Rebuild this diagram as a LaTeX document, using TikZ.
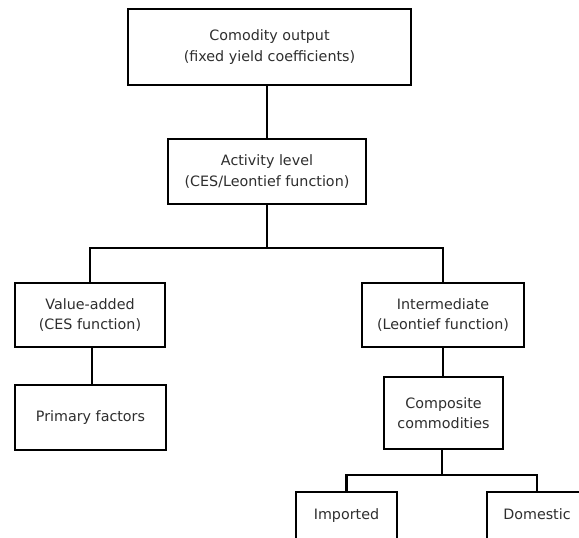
\documentclass[tikz,border=0pt]{standalone}
\usepackage{fontspec}
\setmainfont{DejaVu Sans}
\begin{document}
\begin{tikzpicture}[x=1pt,y=-1pt,
  box/.style={draw=black, line width=2.1pt, fill=white, inner sep=0pt,
    align=center, text=black!82, font=\fontsize{14.3}{20.5}\selectfont},
  leaf/.style={box, text height=10.5pt, text depth=3pt},
  conn/.style={draw=black, line width=2.1pt}]
\useasboundingbox (0,0) rectangle (579,538);
\fill[white] (0,0) rectangle (579,538);
\clip (0,0) rectangle (579,538);
\node[box, minimum width=283pt, minimum height=76pt] (top) at (269.5,47) {Comodity output\\(fixed yield coefficients)};
\node[box, minimum width=198pt, minimum height=65pt] (act) at (267,171.5) {Activity level\\(CES/Leontief function)};
\node[box, minimum width=150pt, minimum height=64pt] (va) at (90,315) {Value-added\\(CES function)};
\node[box, minimum width=151pt, minimum height=65pt] (pf) at (90.5,417.5) {Primary factors};
\node[box, minimum width=162pt, minimum height=64pt] (int) at (443,315) {Intermediate\\(Leontief function)};
\node[box, minimum width=119pt, minimum height=72pt] (comp) at (443.5,413) {Composite\\commodities};
\node[leaf, minimum width=101pt, minimum height=48pt] (imp) at (346.5,516) {Imported};
\node[leaf, minimum width=100pt, minimum height=48pt] (dom) at (537,516) {Domestic};
\coordinate (j1) at (267,248);
\coordinate (j2) at (442,475);
\draw[conn] (act.north) -- (act.north |- top.south);
\draw[conn] (act.south) -- (j1);
\draw[conn] (va.north) |- (j1) -| (int.north);
\draw[conn] (va.south -| 92,0) -- (pf.north -| 92,0);
\draw[conn] (int.south) -- (int.south |- comp.north);
\draw[conn] (comp.south -| j2) -- (j2);
\draw[conn] (imp.north) |- (j2) -| (dom.north);
\end{tikzpicture}
\end{document}
